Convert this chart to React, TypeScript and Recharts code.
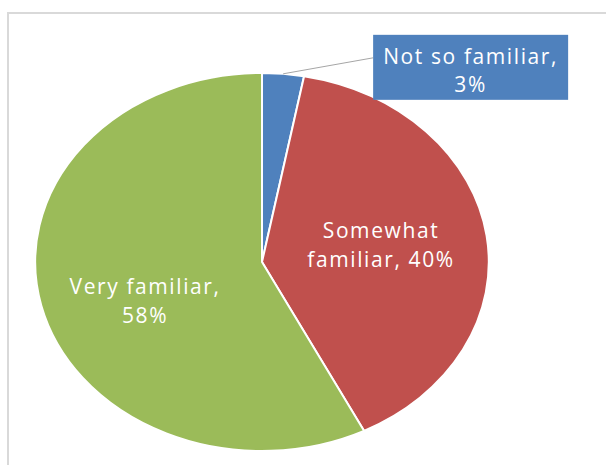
import { Pie, PieChart } from "recharts";

const categories = ["Not so familiar", "Somewhat familiar", "Very familiar"];
const shares = [3, 40, 58];
const COLORS = ["#4F81BD", "#C0504D", "#9BBB59"];

const data = categories.map((name, i) => ({ name, value: shares[i], fill: COLORS[i] }));

// the pie in the picture is stretched wider than tall
const STRETCH = 1.2;
const RAD = Math.PI / 180;
const FONT = "'Open Sans', 'DejaVu Sans', sans-serif";

function EllipseSector(props: any) {
  const { cx, cy, outerRadius, startAngle, endAngle, fill } = props;
  const rx = outerRadius * STRETCH;
  const ry = outerRadius;
  const x0 = cx + rx * Math.cos(startAngle * RAD);
  const y0 = cy - ry * Math.sin(startAngle * RAD);
  const x1 = cx + rx * Math.cos(endAngle * RAD);
  const y1 = cy - ry * Math.sin(endAngle * RAD);
  const large = Math.abs(endAngle - startAngle) > 180 ? 1 : 0;
  const sweep = endAngle < startAngle ? 1 : 0;
  const d = `M${cx},${cy} L${x0},${y0} A${rx},${ry} 0 ${large} ${sweep} ${x1},${y1} Z`;
  return <path d={d} fill={fill} stroke="#fff" strokeWidth={2} strokeLinejoin="round" />;
}

function renderLabel(props: any) {
  const { cx, cy, outerRadius, midAngle, index, name, value } = props;
  const rx = outerRadius * STRETCH;
  const ry = outerRadius;
  const cos = Math.cos(midAngle * RAD);
  const sin = Math.sin(midAngle * RAD);
  const textStyle = {
    fontFamily: FONT,
    fontSize: 21,
    fontWeight: 500,
    letterSpacing: 1.6,
    fill: "#fff",
  };

  if (index === 0) {
    // outside label in a box with a leader line
    const ex = cx + rx * cos;
    const ey = cy - ry * sin;
    const bx = ex + 90;
    const by = ey - 39;
    const bw = 195;
    const bh = 65;
    return (
      <g>
        <line x1={ex} y1={ey} x2={bx} y2={ey - 16} stroke="#a6a6a6" strokeWidth={1} />
        <rect x={bx} y={by} width={bw} height={bh} fill={COLORS[0]} />
        <text x={bx + bw / 2} y={by + 29} textAnchor="middle" style={textStyle}>
          {name},
        </text>
        <text x={bx + bw / 2} y={by + 57} textAnchor="middle" style={textStyle}>
          {value}%
        </text>
      </g>
    );
  }

  const f = 0.53;
  const x = cx + rx * f * cos;
  const y = cy - ry * f * sin + (index === 2 ? 16 : -3);
  const words = name.split(" ");
  const line1 = index === 1 ? words[0] : `${name},`;
  const line2 = index === 1 ? `${words.slice(1).join(" ")}, ${value}%` : `${value}%`;
  return (
    <g>
      <text x={x} y={y - 7} textAnchor="middle" style={textStyle}>
        {line1}
      </text>
      <text x={x} y={y + 22} textAnchor="middle" style={textStyle}>
        {line2}
      </text>
    </g>
  );
}

export default function App() {
  return (
    <div style={{ position: "absolute", left: 0, top: 0, width: 606, height: 465, background: "#fff" }}>
      <div
        style={{
          position: "absolute",
          left: 7,
          top: 12,
          width: 620,
          height: 470,
          borderLeft: "2px solid #d9d9d9",
          borderTop: "2px solid #d9d9d9",
        }}
      />
      <PieChart
        width={606}
        height={465}
        margin={{ top: 0, right: 0, bottom: 0, left: 0 }}
        style={{ position: "absolute", left: 0, top: 0 }}
      >
        <Pie
          data={data}
          dataKey="value"
          nameKey="name"
          cx={262}
          cy={262}
          outerRadius={189}
          startAngle={90}
          endAngle={-270}
          shape={EllipseSector}
          label={renderLabel}
          labelLine={false}
          isAnimationActive={false}
        />
      </PieChart>
    </div>
  );
}
